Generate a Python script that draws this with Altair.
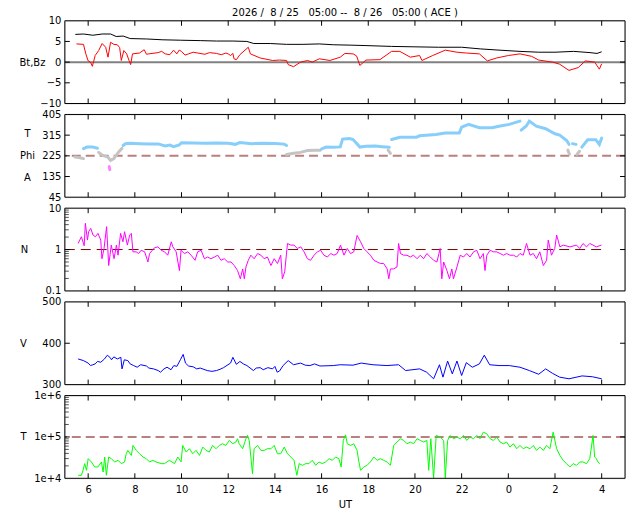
import altair as alt
import pandas as pd

# ---------------- data (hours since 8/25 00:00 UT) ----------------
x_ticks = [6, 8, 10, 12, 14, 16, 18, 20, 22, 24, 26, 28]

bt = [(5.45, 6.7), (5.8, 6.8), (6.2, 6.5), (6.6, 6.8), (6.96, 6.8), (7.2, 6.2), (7.5, 6.3),
      (7.8, 5.7), (8.5, 5.6), (9.2, 5.4), (9.95, 5.3), (10.8, 5.2), (11.5, 5.1), (12.2, 5.1),
      (12.8, 5.0), (13.1, 4.5), (13.8, 4.5), (14.5, 4.3), (15.2, 4.3), (15.9, 4.4), (16.5, 4.2),
      (17.3, 4.1), (17.9, 4.0), (19.0, 3.8), (20.0, 3.7), (21.0, 3.6), (22.0, 3.6), (22.8, 3.2),
      (23.6, 2.9), (24.5, 2.6), (25.3, 2.4), (26.0, 2.4), (26.8, 2.6), (27.5, 2.3), (27.8, 2.1),
      (28.0, 2.5)]

bz = [(5.5, 4.4), (5.8, 4.3), (5.9, 2.0), (6.0, 0.3), (6.1, 0.0), (6.18, -1.0), (6.25, 0.5),
      (6.3, 1.6), (6.45, 2.8), (6.6, 4.5), (6.75, 3.6), (6.85, 1.2), (6.96, 4.8), (7.1, 4.3),
      (7.25, 4.2), (7.35, 3.5), (7.42, 0.4), (7.53, 2.8), (7.65, 2.0), (7.75, 0.4), (7.82, -0.6),
      (7.9, 2.0), (8.2, 2.2), (8.4, 3.0), (8.5, 1.9), (8.6, 2.0), (9.0, 2.3), (9.15, 2.6),
      (9.3, 2.0), (9.5, 1.8), (9.66, 2.9), (9.8, 2.0), (9.9, 2.9), (10.0, 2.6), (10.15, 1.7),
      (10.3, 2.0), (10.5, 2.4), (10.7, 2.2), (11.0, 1.9), (11.2, 2.3), (11.5, 2.1),
      (11.7, 1.8), (11.9, 2.2), (12.0, 2.0), (12.1, 1.6), (12.2, 2.1), (12.25, 0.8),
      (12.35, 0.6), (12.5, 1.8), (12.86, 3.6), (12.95, 2.0), (13.37, 1.0), (13.9, 0.4),
      (14.2, 0.5), (14.5, 0.4), (14.57, -0.6), (14.8, -1.1), (15.1, 0.0), (15.4, 0.4),
      (15.6, 0.0), (15.9, 0.8), (16.36, 0.4), (16.8, 1.2), (17.0, 2.1), (17.35, 2.0),
      (17.5, 1.5), (17.64, -0.8), (17.9, 0.5), (18.5, 0.6), (19.0, 2.6), (19.35, 2.6),
      (19.8, 1.2), (20.2, 1.6), (20.3, 0.4), (20.76, 1.6), (21.3, 2.9), (21.8, 2.4),
      (22.2, 2.2), (22.76, 2.0), (23.1, 0.3), (23.5, 1.0), (24.0, 1.6), (24.5, 2.0),
      (25.0, 1.4), (25.3, 0.5), (25.9, 0.0), (26.2, -0.5), (26.6, -2.0), (27.0, -1.3),
      (27.3, 0.3), (27.7, 0.0), (27.9, -1.7), (28.0, -0.4)]

# Phi: (hour, degrees, colour class, segment)
phi = [
    (5.43, 220, "g", 1), (5.6, 218, "g", 1), (5.8, 213, "g", 1),
    (5.8, 256, "b", 2), (5.95, 263, "b", 2), (6.2, 263, "b", 2), (6.4, 258, "b", 2),
    (6.45, 240, "g", 3), (6.6, 228, "g", 3), (6.85, 219, "g", 3), (6.96, 205, "g", 3),
    (7.1, 213, "g", 3), (7.3, 241, "g", 3), (7.45, 258, "g", 3),
    (6.9, 178, "m", 4), (6.93, 165, "m", 4),
    (7.5, 270, "b", 5), (7.6, 278, "b", 5), (7.8, 280, "b", 5), (8.2, 278, "b", 5),
    (8.6, 276, "b", 5), (9.0, 277, "b", 5), (9.3, 268, "b", 5), (9.5, 272, "b", 5),
    (9.66, 265, "b", 5), (9.9, 272, "b", 5), (10.0, 282, "b", 5), (10.5, 281, "b", 5),
    (11.0, 280, "b", 5), (11.5, 281, "b", 5), (12.0, 280, "b", 5), (12.3, 275, "b", 5),
    (12.5, 283, "b", 5), (13.0, 278, "b", 5), (13.5, 280, "b", 5), (14.0, 279, "b", 5),
    (14.4, 276, "b", 5), (14.5, 270, "b", 5),
    (14.5, 231, "g", 6), (14.8, 236, "g", 6), (15.1, 240, "g", 6), (15.4, 248, "g", 6),
    (15.7, 249, "g", 6), (15.95, 249, "g", 6),
    (16.0, 255, "b", 7), (16.2, 263, "b", 7), (16.5, 262, "b", 7), (16.8, 264, "b", 7),
    (16.9, 298, "b", 7), (17.2, 300, "b", 7), (17.35, 296, "b", 7), (17.64, 263, "b", 7),
    (17.9, 267, "b", 7), (18.3, 268, "b", 7), (18.6, 265, "b", 7), (18.9, 262, "b", 7),
    (18.85, 250, "g", 8), (18.95, 236, "g", 8),
    (19.0, 296, "b", 9), (19.35, 306, "b", 9), (20.07, 306, "b", 9), (20.2, 312, "b", 9),
    (20.9, 318, "b", 9), (21.3, 324, "b", 9), (21.9, 324, "b", 9), (22.0, 350, "b", 9),
    (22.3, 362, "b", 9), (22.76, 347, "b", 9), (23.3, 347, "b", 9), (23.6, 354, "b", 9),
    (24.04, 362, "b", 9), (24.5, 376, "b", 9),
    (24.55, 337, "b", 10), (24.77, 355, "b", 10), (24.9, 376, "b", 10), (25.2, 354, "b", 10),
    (25.6, 343, "b", 10), (26.0, 321, "b", 10), (26.2, 315, "b", 10), (26.5, 292, "b", 10),
    (26.6, 275, "b", 10),
    (26.55, 250, "g", 11), (26.62, 232, "g", 11),
    (26.75, 278, "b", 12), (26.9, 275, "b", 12),
    (26.95, 232, "g", 13), (27.05, 245, "g", 13),
    (27.15, 263, "b", 14), (27.4, 295, "b", 14), (27.75, 295, "b", 14), (27.9, 275, "b", 14),
    (28.0, 302, "b", 14)]

dens = [(5.57, 1.40), (5.71, 2.04), (5.83, 1.23), (5.88, 4.31), (5.97, 1.69), (6.02, 2.70),
        (6.11, 3.25), (6.21, 2.24), (6.31, 2.04), (6.42, 2.46), (6.54, 1.69), (6.59, 0.60),
        (6.68, 1.06), (6.79, 3.57), (6.88, 0.41), (6.99, 1.28), (7.11, 0.60), (7.21, 1.28),
        (7.28, 0.73), (7.39, 2.46), (7.49, 1.54), (7.56, 2.70), (7.68, 1.28), (7.78, 2.24),
        (7.85, 2.46), (7.92, 0.88), (8.06, 0.88), (8.16, 0.80), (8.27, 0.96), (8.42, 0.88),
        (8.56, 0.50), (8.63, 0.80), (8.84, 1.10), (8.99, 1.16), (9.13, 0.96), (9.27, 0.88),
        (9.41, 0.73), (9.56, 1.54), (9.63, 1.16), (9.77, 0.88), (9.91, 0.31), (9.98, 0.96),
        (10.12, 0.80), (10.27, 0.88), (10.41, 0.73), (10.58, 0.55), (10.69, 0.88),
        (10.84, 0.96), (10.98, 0.60), (11.12, 0.66), (11.26, 0.60), (11.41, 0.66),
        (11.55, 0.73), (11.69, 0.55), (11.83, 0.60), (11.98, 0.50), (12.12, 0.50),
        (12.26, 0.41), (12.4, 0.31), (12.52, 0.196), (12.62, 0.34), (12.69, 0.196),
        (12.76, 0.38), (12.86, 0.55), (12.97, 0.73), (13.11, 0.60), (13.26, 0.80), (13.4, 0.73),
        (13.54, 0.60), (13.68, 0.66), (13.83, 0.41), (13.97, 0.60), (14.11, 0.46),
        (14.25, 0.73), (14.32, 0.196), (14.42, 0.29), (14.54, 1.40), (14.68, 1.28),
        (14.82, 1.28), (14.96, 1.06), (15.11, 1.16), (15.25, 0.88), (15.39, 0.60),
        (15.53, 0.55), (15.68, 0.73), (15.82, 0.88), (15.96, 0.96), (16.1, 0.73),
        (16.25, 0.66), (16.39, 0.80), (16.53, 0.73), (16.67, 0.80), (16.81, 1.28),
        (16.96, 0.73), (17.1, 1.06), (17.24, 0.80), (17.38, 0.88), (17.52, 2.19),
        (17.67, 1.54), (17.81, 1.06), (17.95, 0.88), (18.09, 0.73), (18.24, 0.55),
        (18.38, 0.50), (18.52, 0.46), (18.66, 0.46), (18.81, 0.34), (18.88, 0.196),
        (18.95, 0.34), (19.09, 0.34), (19.23, 0.38), (19.3, 1.40), (19.38, 0.80), (19.52, 0.73),
        (19.66, 0.73), (19.8, 0.66), (19.94, 0.73), (20.09, 0.60), (20.23, 0.73), (20.37, 0.60),
        (20.51, 0.80), (20.66, 0.66), (20.8, 0.55), (20.94, 0.50), (21.08, 1.06),
        (21.15, 0.196), (21.23, 0.50), (21.37, 0.31), (21.48, 0.196), (21.58, 0.34),
        (21.65, 0.196), (21.8, 0.38), (21.94, 0.73), (22.08, 0.66), (22.22, 0.80),
        (22.36, 0.66), (22.51, 0.88), (22.65, 0.96), (22.79, 0.60), (22.93, 0.80), (23.0, 0.31),
        (23.08, 0.73), (23.22, 0.96), (23.36, 0.88), (23.5, 0.88), (23.65, 0.80), (23.79, 0.73),
        (23.93, 0.80), (24.07, 0.73), (24.22, 0.73), (24.36, 0.66), (24.5, 0.80), (24.64, 0.73),
        (24.78, 1.40), (24.93, 0.73), (25.07, 0.80), (25.21, 0.60), (25.35, 0.88), (25.5, 0.41),
        (25.64, 0.55), (25.71, 1.69), (25.85, 0.73), (25.99, 1.06), (26.07, 2.24),
        (26.21, 1.16), (26.35, 1.28), (26.64, 1.16), (26.92, 1.28), (27.06, 1.06), (27.2, 1.40),
        (27.35, 1.16), (27.49, 1.40), (27.63, 1.28), (27.77, 1.16), (27.99, 1.28)]

speed = [(5.57, 362), (5.8, 358), (6.0, 352), (6.1, 346), (6.2, 348), (6.3, 350), (6.4, 356),
         (6.54, 354), (6.7, 362), (6.82, 371), (6.95, 365), (7.0, 360), (7.1, 367), (7.25, 362),
         (7.4, 366), (7.45, 338), (7.55, 360), (7.7, 358), (7.8, 350), (7.95, 346), (8.1, 342),
         (8.25, 348), (8.5, 345), (8.6, 340), (8.8, 338), (9.0, 334), (9.1, 330), (9.25, 338),
         (9.38, 342), (9.55, 336), (9.67, 346), (9.8, 344), (9.95, 360), (10.07, 373),
         (10.17, 352), (10.3, 345), (10.5, 343), (10.65, 338), (10.8, 340), (11.1, 334),
         (11.3, 332), (11.5, 334), (11.65, 337), (11.8, 341), (12.1, 352), (12.2, 366),
         (12.35, 349), (12.5, 356), (12.65, 350), (12.8, 346), (13.08, 334), (13.2, 340),
         (13.37, 341), (13.5, 336), (13.7, 341), (13.9, 338), (14.0, 344), (14.1, 330),
         (14.2, 333), (14.35, 346), (14.57, 358), (14.8, 348), (15.1, 352), (15.3, 347),
         (15.5, 346), (15.7, 350), (15.93, 345), (16.5, 346), (16.8, 348), (17.35, 347),
         (17.7, 352), (18.2, 348), (18.8, 346), (19.3, 348), (19.6, 334), (20.2, 338),
         (20.5, 330), (20.8, 314), (21.05, 348), (21.2, 318), (21.4, 357), (21.6, 326),
         (21.8, 357), (22.0, 322), (22.2, 353), (22.46, 342), (22.76, 350), (22.97, 371),
         (23.2, 348), (23.6, 346), (24.04, 346), (24.5, 342), (24.9, 334), (25.3, 325),
         (25.6, 338), (25.9, 327), (26.2, 318), (26.6, 314), (27.16, 321), (27.6, 319),
         (28.0, 314)]

temp = [(5.57, 11800), (5.71, 11800), (5.78, 15600), (5.85, 22600), (5.93, 15600), (6.0, 29800),
        (6.14, 24800), (6.28, 18800), (6.42, 18800), (6.57, 24800), (6.64, 14200), (6.71, 32700),
        (6.78, 11800), (6.88, 32700), (6.99, 29800), (7.14, 24800), (7.28, 27200), (7.42, 22600),
        (7.56, 24800), (7.63, 39300), (7.7, 47300), (7.85, 35800), (7.92, 62400), (8.06, 47300),
        (8.2, 39300), (8.35, 32700), (8.49, 29800), (8.63, 24800), (8.77, 27200), (8.91, 24800),
        (9.13, 22600), (9.27, 22600), (9.48, 27200), (9.7, 22600), (9.84, 32700), (9.98, 24800),
        (10.05, 62400), (10.2, 43100), (10.34, 51900), (10.48, 39300), (10.62, 47300),
        (10.77, 35800), (10.91, 56900), (11.05, 47300), (11.19, 43100), (11.33, 62400),
        (11.48, 51900), (11.62, 62400), (11.76, 68400), (11.9, 62400), (12.05, 82400),
        (12.19, 68400), (12.33, 75100), (12.4, 90400), (12.47, 68400), (12.62, 51900),
        (12.76, 90400), (12.83, 108700), (12.9, 82400), (13.04, 12900), (13.11, 51900),
        (13.26, 62400), (13.4, 47300), (13.54, 47300), (13.68, 51900), (13.83, 51900),
        (13.97, 62400), (14.11, 39300), (14.25, 39300), (14.4, 56900), (14.54, 39300),
        (14.68, 32700), (14.82, 27200), (14.94, 11800), (15.04, 22600), (15.18, 20600),
        (15.32, 22600), (15.46, 22600), (15.6, 27200), (15.75, 20600), (15.89, 24800),
        (16.03, 22600), (16.17, 24800), (16.32, 29800), (16.46, 27200), (16.6, 32700),
        (16.74, 29800), (16.84, 18800), (16.93, 82400), (16.96, 90400), (17.03, 112700),
        (17.1, 68400), (17.24, 62400), (17.38, 68400), (17.52, 47300), (17.6, 24800),
        (17.67, 15600), (17.81, 18800), (17.95, 20600), (18.09, 24800), (18.24, 32700),
        (18.38, 27200), (18.52, 29800), (18.66, 27200), (18.81, 24800), (18.95, 20600),
        (19.09, 62400), (19.23, 75100), (19.38, 90400), (19.52, 82400), (19.66, 68400),
        (19.8, 75100), (19.94, 68400), (20.09, 90400), (20.23, 82400), (20.37, 75100),
        (20.51, 82400), (20.59, 15600), (20.68, 90400), (20.8, 10200), (20.91, 108700),
        (21.08, 99100), (21.23, 82400), (21.3, 10200), (21.4, 82400), (21.51, 108700),
        (21.65, 90400), (21.8, 99100), (21.94, 90400), (22.08, 108700), (22.22, 82400),
        (22.36, 99100), (22.51, 90400), (22.65, 108700), (22.79, 90400), (22.93, 130600),
        (23.08, 119100), (23.22, 90400), (23.36, 82400), (23.5, 99100), (23.65, 75100),
        (23.79, 68400), (23.93, 75100), (24.07, 56900), (24.22, 68400), (24.36, 51900),
        (24.5, 62400), (24.64, 51900), (24.78, 56900), (24.93, 51900), (25.07, 62400),
        (25.21, 47300), (25.35, 56900), (25.5, 47300), (25.64, 62400), (25.78, 51900),
        (25.92, 130600), (26.07, 51900), (26.21, 35800), (26.35, 27200), (26.49, 22600),
        (26.64, 18800), (26.78, 22600), (26.92, 20600), (27.06, 24800), (27.2, 24800),
        (27.35, 22600), (27.49, 29800), (27.63, 108700), (27.7, 32700), (27.77, 29800),
        (27.84, 24800), (27.92, 22600)]

title_text = "2026 /  8 / 25   05:00 --  8 / 26   05:00 ( ACE )".replace(" ", "\u00a0")

# ---------------- layout / style ----------------
W, H = 562, 83
FONT = "DejaVu Sans"
FS = 10
xs = alt.Scale(domain=[5, 29], nice=False, zero=False)


def df(pairs, cols=("h", "v")):
    return pd.DataFrame(pairs, columns=list(cols))


def yaxis(values, title, title_x, label_expr=None, line_height=None, title_y=H / 2):
    kw = dict(values=values, ticks=False, domain=False, grid=False, labelFontSize=FS,
              labelFont=FONT, labelColor="black", labelPadding=4, labelOverlap=False,
              labelFlush=False, title=title, titleAngle=0, titleAlign="center",
              titleBaseline="middle", titleX=title_x, titleY=title_y, titleFont=FONT,
              titleFontSize=FS, titleFontWeight="normal", titleColor="black")
    if label_expr:
        kw["labelExpr"] = label_expr
    if line_height:
        kw["titleLineHeight"] = line_height
    return alt.Axis(**kw)


def frame_ticks(ys, major, minor=()):
    box = alt.Chart(pd.DataFrame({"k": [0]})).mark_rect(
        fill="white", fillOpacity=0, stroke="black", strokeWidth=1).encode(
        x=alt.value(0), x2=alt.value(W), y=alt.value(0), y2=alt.value(H))
    xt = pd.DataFrame({"xt": x_ticks})
    xenc = alt.X("xt:Q", scale=xs, axis=None)
    top = alt.Chart(xt).mark_rule(color="black").encode(x=xenc, y=alt.value(0), y2=alt.value(5))
    bot = alt.Chart(xt).mark_rule(color="black").encode(x=xenc, y=alt.value(H - 5), y2=alt.value(H))
    yt = pd.DataFrame({"yt": list(major)})
    yenc = alt.Y("yt:Q", scale=ys, axis=None)
    left = alt.Chart(yt).mark_rule(color="black").encode(y=yenc, x=alt.value(0), x2=alt.value(5))
    right = alt.Chart(yt).mark_rule(color="black").encode(y=yenc, x=alt.value(W - 5), x2=alt.value(W))
    layers = [top, bot, left, right]
    if minor:
        ym = pd.DataFrame({"yt": list(minor)})
        layers.append(alt.Chart(ym).mark_rule(color="#555555").encode(
            y=yenc, x=alt.value(0), x2=alt.value(4)))
    layers.append(box)
    return layers


def panel(*layers, **props):
    return alt.layer(*layers).resolve_axis(x="independent", y="independent").properties(
        width=W, height=H, **props)


# ---- panel 1: Bt, Bz ----
ys1 = alt.Scale(domain=[-10, 10], nice=False, zero=False)
zero = alt.Chart(pd.DataFrame({"v": [0]})).mark_rule(color="#808080", strokeWidth=2).encode(
    y=alt.Y("v:Q", scale=ys1, axis=yaxis([-10, -5, 0, 5, 10], "Bt,Bz", -33)))
bz_l = alt.Chart(df(bz)).mark_line(color="#ff0000", strokeWidth=1, clip=True).encode(
    x=alt.X("h:Q", scale=xs, axis=None), y=alt.Y("v:Q", scale=ys1, axis=None))
bt_l = alt.Chart(df(bt)).mark_line(color="#000000", strokeWidth=1, clip=True).encode(
    x=alt.X("h:Q", scale=xs, axis=None), y=alt.Y("v:Q", scale=ys1, axis=None))
p1 = panel(zero, bz_l, bt_l, *frame_ticks(ys1, [-5, 0, 5]),
           title=alt.TitleParams(title_text, font=FONT, fontSize=FS, fontWeight="normal",
                                 color="black", anchor="middle", offset=-2))

# ---- panel 2: Phi ----
ys2 = alt.Scale(domain=[45, 405], nice=False, zero=False)
ref225 = alt.Chart(pd.DataFrame({"v": [225]})).mark_rule(
    color="#bc7f7f", strokeWidth=2, strokeDash=[9, 5]).encode(
    y=alt.Y("v:Q", scale=ys2, axis=yaxis([45, 135, 225, 315, 405], ["T", "Phi", "A"], -38,
                                         line_height=22, title_y=H / 2 - 22)))
phi_l = alt.Chart(pd.DataFrame(phi, columns=["h", "v", "c", "seg"])).mark_line(
    strokeWidth=3, strokeCap="round", clip=True).encode(
    x=alt.X("h:Q", scale=xs, axis=None), y=alt.Y("v:Q", scale=ys2, axis=None),
    color=alt.Color("c:N", scale=alt.Scale(domain=["g", "m", "b"],
                                           range=["#c4c4c4", "#ff80ff", "#87cefa"]), legend=None),
    detail="seg:N")
p2 = panel(ref225, phi_l, *frame_ticks(ys2, [135, 225, 315]))

# ---- panel 3: N ----
ys3 = alt.Scale(type="log", domain=[0.1, 10], nice=False)
n_minor = [0.2, 0.3, 0.4, 0.5, 0.6, 0.7, 0.8, 0.9, 2, 3, 4, 5, 6, 7, 8, 9]
ref1 = alt.Chart(pd.DataFrame({"h0": [5.0], "h1": [28.0], "v": [1]})).mark_rule(
    color="#800000", strokeWidth=1, strokeDash=[10, 6]).encode(
    x=alt.X("h0:Q", scale=xs, axis=None), x2="h1:Q",
    y=alt.Y("v:Q", scale=ys3,
            axis=yaxis([0.1, 1, 10], "N", -41,
                       label_expr="datum.value < 0.5 ? '0.1' : (datum.value < 5 ? '1' : '10')")))
n_l = alt.Chart(df(dens)).mark_line(color="#ff00ff", strokeWidth=1, clip=True).encode(
    x=alt.X("h:Q", scale=xs, axis=None), y=alt.Y("v:Q", scale=ys3, axis=None))
p3 = panel(ref1, n_l, *frame_ticks(ys3, [1], n_minor))

# ---- panel 4: V ----
ys4 = alt.Scale(domain=[300, 500], nice=False, zero=False)
v_l = alt.Chart(df(speed)).mark_line(color="#0000ff", strokeWidth=1, clip=True).encode(
    x=alt.X("h:Q", scale=xs, axis=None),
    y=alt.Y("v:Q", scale=ys4, axis=yaxis([300, 400, 500], "V", -42)))
p4 = panel(v_l, *frame_ticks(ys4, [400]))

# ---- panel 5: T ----
ys5 = alt.Scale(type="log", domain=[1e4, 1e6], nice=False)
t_minor = [2e4, 3e4, 4e4, 5e4, 6e4, 7e4, 8e4, 9e4, 2e5, 3e5, 4e5, 5e5, 6e5, 7e5, 8e5, 9e5]
ref1e5 = alt.Chart(pd.DataFrame({"v": [1e5]})).mark_rule(
    color="#bc7f7f", strokeWidth=2, strokeDash=[9, 5]).encode(
    y=alt.Y("v:Q", scale=ys5,
            axis=yaxis([1e4, 1e5, 1e6], "T", -42,
                       label_expr="datum.value < 5e4 ? '1e+4' : (datum.value < 5e5 ? '1e+5' : '1e+6')")))
t_l = alt.Chart(df(temp)).mark_line(color="#00ff00", strokeWidth=1, clip=True).encode(
    x=alt.X("h:Q", scale=xs,
            axis=alt.Axis(values=x_ticks, labelExpr="datum.value % 24", ticks=False, domain=False,
                          grid=False, labelPadding=6, labelFont=FONT, labelFontSize=FS,
                          labelColor="black", labelFlush=False, labelOverlap=False, title="UT",
                          titleFont=FONT, titleFontSize=FS, titleFontWeight="normal",
                          titleColor="black", titlePadding=5)),
    y=alt.Y("v:Q", scale=ys5, axis=None))
p5 = panel(ref1e5, t_l, *frame_ticks(ys5, [1e5], t_minor))

chart = alt.vconcat(p1, p2, p3, p4, p5, spacing=11, bounds="flush").properties(
    padding={"left": 10, "top": -2, "right": 5, "bottom": 2}
).configure_view(stroke="black", strokeWidth=1).configure(background="white")

chart.save("out.html", embed_options={"renderer": "svg", "actions": False})
